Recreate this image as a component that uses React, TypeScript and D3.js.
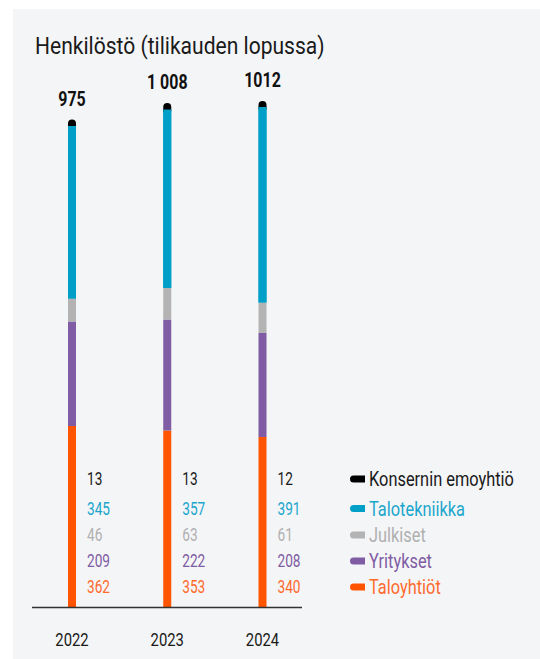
import React from "react";
import * as d3 from "d3";

const years = ["2022", "2023", "2024"];
const totals = ["975", "1 008", "1012"];
const seriesNames = ["Taloyhtiöt", "Yritykset", "Julkiset", "Talotekniikka", "Konsernin emoyhtiö"];
const taloyhtiot = [362, 353, 340];
const yritykset = [209, 222, 208];
const julkiset = [46, 63, 61];
const talotekniikka = [345, 357, 391];
const emoyhtio = [13, 13, 12];
const seriesColors = ["#ff5400", "#7f5ca3", "#b3b3b3", "#009fc7", "#000000"];
const textColors = ["#ff6a2c", "#7f5ca3", "#b0b0b0", "#1aa6cc", "#1a1a1a"];

const FONT = "Roboto, 'Noto Sans', sans-serif";

function T(props: { x: number; y: number; size: number; fill: string; sx?: number; anchor?: string; bold?: boolean; central?: boolean; children: any }) {
  const { x, y, size, fill, anchor, bold, central, children } = props;
  const sx = props.sx ?? 0.78;
  return (
    <g transform={`translate(${x},${y}) scale(${sx},1)`}>
      <text x={0} y={0} fontSize={size} fill={fill} textAnchor={anchor || "start"}
        fontWeight={bold ? "bold" : "normal"} dominantBaseline={central ? "central" : "auto"}>{children}</text>
    </g>
  );
}

export default function App() {
  const W = 540, H = 659;
  const baseY = 607;
  const y = d3.scaleLinear().domain([0, 1000]).range([baseY, baseY - 500]);
  const x = d3.scalePoint<string>().domain(years).range([72, 262.5]);
  const barW = 8;

  const seriesVals = [taloyhtiot, yritykset, julkiset, talotekniikka, emoyhtio];
  const table = years.map((yr, i) => {
    const row: any = { year: yr };
    seriesNames.forEach((n, k) => (row[n] = seriesVals[k][i]));
    return row;
  });
  const stack = d3.stack<any>().keys(seriesNames)(table);

  const rowY = d3.scaleOrdinal<string, number>()
    .domain([...seriesNames].reverse())
    .range([479, 508.5, 535, 561, 587]);

  return (
    <div style={{ position: "absolute", left: 0, top: 0 }}>
      <svg width={W} height={H} style={{ display: "block", fontFamily: FONT }}>
        <rect x={13} y={9} width={W - 13} height={H - 9} fill="#f4f5f7" />
        <T x={35} y={53.5} size={24.5} sx={0.86} fill="#1a1a1a">Henkilöstö (tilikauden lopussa)</T>

        {stack.map((layer, k) => (
          <g key={layer.key}>
            {layer.map((d, i) => {
              const cx = x(years[i])!;
              const top = y(d[1]);
              const bot = y(d[0]);
              if (k === stack.length - 1) {
                return (
                  <rect key={i} x={cx - barW / 2} y={top} width={barW} height={bot - top + 5}
                    rx={4} ry={4} fill={seriesColors[k]} />
                );
              }
              return (
                <rect key={i} x={cx - barW / 2} y={top} width={barW} height={bot - top}
                  fill={seriesColors[k]} />
              );
            })}
          </g>
        ))}
        {stack[3].map((d, i) => {
          const cx = x(years[i])!;
          return (
            <rect key={"t" + i} x={cx - barW / 2} y={y(d[1])} width={barW} height={y(d[0]) - y(d[1])}
              fill={seriesColors[3]} />
          );
        })}

        {stack[stack.length - 1].map((d, i) => (
          <T key={"tot" + i} x={x(years[i])!} y={y(d[1]) - 14} anchor="middle"
            size={21} sx={0.76} bold fill="#111">{totals[i]}</T>
        ))}

        {seriesNames.map((n, k) =>
          years.map((yr, i) => (
            <T key={n + yr} x={x(yr)! + 15} y={rowY(n)} central
              size={17.5} fill={textColors[k]}>{seriesVals[k][i]}</T>
          ))
        )}

        <line x1={32} x2={302} y1={baseY + 0.5} y2={baseY + 0.5} stroke="#333" strokeWidth={1.5} />

        {years.map((yr) => (
          <T key={yr} x={x(yr)!} y={646} anchor="middle" size={19} fill="#1a1a1a">{yr}</T>
        ))}

        {[...seriesNames].reverse().map((n) => {
          const k = seriesNames.indexOf(n);
          const cy = rowY(n);
          return (
            <g key={"lg" + n}>
              <path d={`M365,${cy - 3.5} L353.5,${cy - 3.5} A3.5,3.5 0 0 0 353.5,${cy + 3.5} L365,${cy + 3.5} Z`}
                fill={seriesColors[k]} />
              <T x={369} y={cy} central size={19.5} sx={0.84}
                fill={k === 4 ? "#1a1a1a" : textColors[k]}>{n}</T>
            </g>
          );
        })}
      </svg>
    </div>
  );
}
